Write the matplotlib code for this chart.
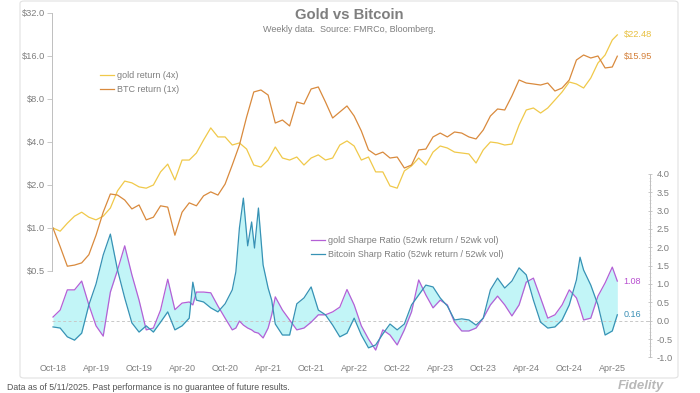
import matplotlib
matplotlib.use('Agg')
import matplotlib.pyplot as plt
from matplotlib.patches import FancyBboxPatch
from matplotlib.ticker import FixedLocator, FixedFormatter
import numpy as np

plt.rcParams['font.family'] = ['Liberation Sans', 'DejaVu Sans']

# x values are months since Oct-2018 (weekly data read off roughly once a month)
ret_months = list(range(79)) + [78.7]
gold_ret = [1.00, 0.95, 1.08, 1.21, 1.29, 1.19, 1.14, 1.21, 1.38, 1.82,
            2.13, 2.07, 1.94, 1.90, 2.00, 2.47, 2.80, 2.17, 2.99, 2.99,
            3.35, 4.13, 5.02, 4.34, 4.34, 3.81, 3.94, 3.57, 2.76, 2.67,
            2.99, 3.69, 3.09, 2.99, 3.14, 2.76, 3.09, 3.25, 2.99, 3.09,
            3.81, 4.07, 3.75, 2.99, 3.14, 2.47, 2.47, 1.97, 1.90, 2.51,
            2.72, 3.09, 2.76, 3.40, 3.75, 3.63, 3.40, 3.35, 3.30, 2.85,
            3.52, 4.00, 3.94, 3.81, 3.87, 5.26, 6.70, 6.92, 6.38, 6.92,
            7.87, 8.96, 10.52, 10.19, 9.55, 11.22, 14.29, 16.26, 20.71, 22.48]
btc_ret = [1.00, 0.74, 0.54, 0.55, 0.57, 0.65, 0.89, 1.29, 1.73, 1.70,
           1.57, 1.36, 1.45, 1.14, 1.19, 1.43, 1.40, 0.89, 1.29, 1.50,
           1.43, 1.68, 1.79, 1.70, 2.03, 2.76, 3.81, 5.98, 8.96, 9.25,
           8.53, 5.43, 5.70, 5.18, 7.62, 7.38, 9.40, 9.71, 7.62, 5.89,
           6.49, 7.15, 6.08, 4.78, 3.52, 3.25, 3.40, 3.09, 3.14, 2.63,
           2.76, 3.52, 3.57, 4.34, 4.62, 4.34, 4.70, 4.62, 4.34, 4.20,
           4.85, 6.08, 6.81, 6.70, 8.40, 10.87, 10.35, 10.19, 10.02, 10.35,
           9.10, 9.55, 10.87, 15.00, 16.26, 15.49, 16.00, 13.19, 13.40, 15.95]

sharpe_months = (list(range(20)) + [19.5] + list(range(20, 26)) + [25.5, 26, 26.55, 27.15, 27.7, 28.1, 28.65, 29.3, 30, 30.5]
                 + list(range(31, 74)) + [73.5] + list(range(74, 79)) + [78.7])
sharpe_months = sorted(sharpe_months)
gold_sharpe = [0.10, 0.29, 0.84, 0.84, 1.08, 0.43, -0.14, -0.42, 0.78, 1.38,
               2.04, 1.25, 0.56, -0.25, -0.20, 0.29, 1.13, 0.30, 0.48, 0.51,
               0.43, 0.78, 0.78, 0.76, 0.40, 0.07, -0.25, -0.20, -0.01, -0.12,
               -0.20, -0.25, -0.31, -0.34, -0.47, -0.20, 0.16, 0.65, 0.29, 0.02,
               -0.25, -0.20, -0.04, 0.16, 0.16, 0.24, 0.37, 0.85, 0.43, -0.14,
               -0.50, -0.80, -0.25, -0.39, -0.66, -0.25, 0.24, 1.11, 0.70, 0.35,
               0.56, 0.43, -0.04, -0.28, -0.28, -0.20, 0.07, 0.43, 0.67, 0.43,
               0.13, 0.43, 1.05, 1.16, 0.62, 0.07, 0.16, 0.43, 0.84, 0.62,
               0.34, 0.02, 0.07, 0.67, 1.03, 1.46, 1.08]
btc_sharpe = [-0.17, -0.20, -0.44, -0.53, -0.34, 0.43, 1.00, 1.79, 2.36, 1.38,
              0.62, -0.06, -0.31, -0.14, -0.31, -0.04, 0.24, -0.25, -0.14, 0.07,
              1.05, 0.56, 0.51, 0.35, 0.24, 0.46, 0.84, 1.33, 2.53, 3.34,
              2.04, 2.69, 1.98, 3.07, 1.52, 0.89, 0.56, -0.09, -0.39, -0.39,
              0.46, 0.62, 0.92, 0.29, 0.16, -0.12, -0.44, -0.34, 0.07, -0.39,
              -0.74, -0.66, -0.36, -0.09, -0.25, -0.09, 0.43, 0.70, 0.97, 0.92,
              0.62, 0.40, 0.02, 0.05, 0.02, -0.12, 0.07, 0.84, 1.16, 0.89,
              1.08, 1.44, 1.25, 0.56, -0.04, -0.20, -0.17, 0.02, 0.43, 1.11,
              1.73, 1.38, 0.97, 0.43, -0.39, -0.28, 0.16]

date_ticks = list(range(0, 79, 6))
date_labels = ['Oct-18', 'Apr-19', 'Oct-19', 'Apr-20', 'Oct-20', 'Apr-21', 'Oct-21',
               'Apr-22', 'Oct-22', 'Apr-23', 'Oct-23', 'Apr-24', 'Oct-24', 'Apr-25']
price_ticks = [0.5, 1, 2, 4, 8, 16, 32]
price_labels = ['$0.5', '$1.0', '$2.0', '$4.0', '$8.0', '$16.0', '$32.0']
sharpe_ticks = [-1.0, -0.5, 0.0, 0.5, 1.0, 1.5, 2.0, 2.5, 3.0, 3.5, 4.0]
sharpe_labels = ['-1.0', '-0.5', '0.0', '0.5', '1.0', '1.5', '2.0', '2.5', '3.0', '3.5', '4.0']

GOLD = '#f0c94a'
BTC = '#d98a3d'
PURP = '#b460d6'
TEAL = '#3792b5'
FILL = '#c2f5f7'
GREY = '#7f7f7f'

fig = plt.figure(figsize=(7, 3.93), dpi=100)
ax = fig.add_axes([52 / 700, 1 - 360 / 393, 598 / 700, 350 / 393])
ax2 = ax.twinx()

# returns, log scale on the left
l_gold, = ax.plot(ret_months, gold_ret, color=GOLD, lw=0.9)
l_btc, = ax.plot(ret_months, btc_ret, color=BTC, lw=0.9)
ax.set_yscale('log')
ax.set_ylim(0.1191, 33.58)
ax.set_xlim(-0.14, 83.26)
ax.yaxis.set_major_locator(FixedLocator(price_ticks))
ax.yaxis.set_major_formatter(FixedFormatter(price_labels))
ax.yaxis.set_minor_locator(FixedLocator([]))
ax.set_xticks(date_ticks)
ax.set_xticklabels(date_labels)
ax.tick_params(axis='x', length=0, pad=3, labelsize=6.5, labelcolor=GREY)
ax.tick_params(axis='y', length=3.6, width=0.6, color='#bfbfbf', pad=1.5,
               labelsize=6.7, labelcolor=GREY)
for s in ['top', 'right', 'bottom']:
    ax.spines[s].set_visible(False)
ax.spines['left'].set_bounds(0.5, 32)
ax.spines['left'].set_color('#bfbfbf')
ax.spines['left'].set_linewidth(0.7)

# sharpe ratios on the right
ax2.fill_between(sharpe_months, gold_sharpe, btc_sharpe, color=FILL, lw=0)
ax2.axhline(0, color='#c8c8c8', lw=0.7, dashes=(3, 2.5))
l_gs, = ax2.plot(sharpe_months, gold_sharpe, color=PURP, lw=0.9)
l_bs, = ax2.plot(sharpe_months, btc_sharpe, color=TEAL, lw=0.9)
ax2.set_ylim(-1.071, 8.466)
ax2.yaxis.set_major_locator(FixedLocator(sharpe_ticks))
ax2.yaxis.set_major_formatter(FixedFormatter(sharpe_labels))
ax2.yaxis.set_minor_locator(FixedLocator(np.arange(-1.0, 4.01, 0.1)))
ax2.tick_params(axis='y', which='major', direction='inout', length=3.5, width=0.6,
                color='#bfbfbf', pad=3, labelsize=6.7, labelcolor=GREY)
ax2.tick_params(axis='y', which='minor', direction='inout', length=1.5, width=0.4,
                color='#cfcfcf')
for s in ['top', 'left', 'bottom']:
    ax2.spines[s].set_visible(False)
ax2.spines['right'].set_bounds(-1, 4)
ax2.spines['right'].set_color('#bfbfbf')
ax2.spines['right'].set_linewidth(0.7)

# end labels
ax.annotate(f'${gold_ret[-1]:.2f}', xy=(ret_months[-1], gold_ret[-1]), xytext=(4.5, 0),
            textcoords='offset points', va='center', ha='left', color='#e8c040', fontsize=6.7)
ax.annotate(f'${btc_ret[-1]:.2f}', xy=(ret_months[-1], btc_ret[-1]), xytext=(4.5, 0),
            textcoords='offset points', va='center', ha='left', color='#d4803a', fontsize=6.7)
ax2.annotate(f'{gold_sharpe[-1]:.2f}', xy=(sharpe_months[-1], gold_sharpe[-1]), xytext=(4.5, 0),
             textcoords='offset points', va='center', ha='left', color='#b84fd0', fontsize=6.5)
ax2.annotate(f'{btc_sharpe[-1]:.2f}', xy=(sharpe_months[-1], btc_sharpe[-1]), xytext=(4.5, 0),
             textcoords='offset points', va='center', ha='left', color='#3a8fb5', fontsize=6.5)

leg1 = ax2.legend([l_gold, l_btc], ['gold return (4x)', 'BTC return (1x)'],
                  loc='upper left', bbox_to_anchor=(100 / 700, 1 - 71 / 393),
                  bbox_transform=fig.transFigure, frameon=False, fontsize=6.5,
                  handlelength=1.55, handletextpad=0.3, labelspacing=0.6,
                  borderpad=0, borderaxespad=0)
for t in leg1.get_texts():
    t.set_color(GREY)
ax2.add_artist(leg1)
leg2 = ax2.legend([l_gs, l_bs], ['gold Sharpe Ratio (52wk return / 52wk vol)',
                                 'Bitcoin Sharp Ratio (52wk return / 52wk vol)'],
                  loc='upper left', bbox_to_anchor=(311 / 700, 1 - 236 / 393),
                  bbox_transform=fig.transFigure, frameon=False, fontsize=6.5,
                  handlelength=1.55, handletextpad=0.3, labelspacing=0.6,
                  borderpad=0, borderaxespad=0)
for t in leg2.get_texts():
    t.set_color(GREY)

# titles
fig.text(349.5 / 700, 1 - 15 / 393, 'Gold vs Bitcoin', ha='center', va='center',
         fontsize=10.7, fontweight='bold', color=GREY)
fig.text(349 / 700, 1 - 29 / 393, 'Weekly data.  Source: FMRCo, Bloomberg.',
         ha='center', va='center', fontsize=6.5, color=GREY)

# frame around the chart
box = FancyBboxPatch((20 / 700, 1 - 378 / 393), 658 / 700, 377 / 393,
                     boxstyle='round,pad=0,rounding_size=0.006', transform=fig.transFigure,
                     fc='none', ec='#e2e2e2', lw=0.8)
fig.add_artist(box)

fig.text(7 / 700, 1 - 383 / 393,
         'Data as of 5/11/2025. Past performance is no guarantee of future results.',
         ha='left', va='top', fontsize=6.3, color='#555555')
fig.text(618 / 700, 1.5 / 393, 'Fidelity', ha='left', va='bottom', fontsize=9.5,
         fontweight='bold', style='italic', color='#b8b8b8')

fig.savefig('out.png', dpi=100, facecolor='white')
